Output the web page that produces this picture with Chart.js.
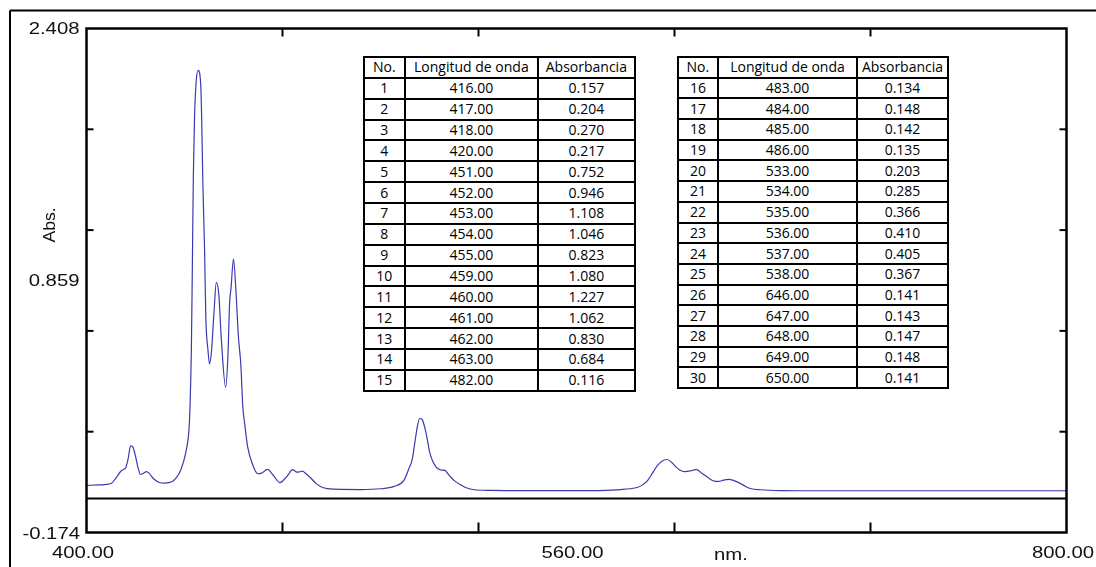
<!DOCTYPE html>
<html>
<head>
<meta charset="utf-8">
<script src="https://cdn.jsdelivr.net/npm/chart.js@4.4.1/dist/chart.umd.min.js"></script>
<style>
  html, body { margin: 0; padding: 0; background: #fff; }
  #wrap { position: relative; width: 1096px; height: 567px; overflow: hidden; }
  #chart { position: absolute; left: 0; top: 0; }
  table.pk {
    position: absolute; border-collapse: collapse; table-layout: fixed;
    font-family: "Open Sans", sans-serif; font-size: 14px; color: #000; background: #fff;
  }
  table.pk td {
    border: 2px solid #000; padding: 0; text-align: center; vertical-align: middle;
    line-height: 1; white-space: nowrap; overflow: hidden;
  }
</style>
</head>
<body>
<div id="wrap"><canvas id="chart" width="1096" height="567"></canvas></div>
<script>
// Absorption spectrum, 400-800 nm
const spectrumNm = [400, 405, 410, 412, 414, 415.5, 419, 421, 422, 423, 424.5, 425.5, 427.5, 430, 432, 435, 436.5, 438.4, 440.4, 441.8,
  442.2, 442.8, 443.2, 443.6, 444.1, 444.8, 445.6, 446.6, 447.0, 447.5, 448.2, 448.7, 449.6, 450.2, 456.8, 457.7, 458.4,
  463.8, 464.4, 465.8, 467.7, 469.9, 471.5, 473.9, 476.3, 479.0, 481.2, 487, 488.1, 489.5, 491.2, 493.9, 496.7, 501.3,
  512, 520, 525.5, 529.5, 531.5, 539.2, 540, 541.2, 542.5, 543.9, 545, 546.3, 547.5, 548.7, 550.5, 552.8, 555, 558.2,
  565, 580, 607, 618, 622, 625, 627, 629, 631, 633, 635, 637, 639, 640.7, 642, 644, 645, 651, 652.5, 654.5, 656.3,
  658, 660, 662, 664, 667.2, 669, 671.3, 675, 683.5, 700, 800];
const spectrumAbs = [0.067, 0.070, 0.077, 0.105, 0.140, 0.152, 0.262, 0.160, 0.124, 0.128, 0.138, 0.130, 0.100, 0.081, 0.079, 0.087, 0.105, 0.144, 0.229, 0.349,
  0.451, 0.758, 1.185, 1.646, 1.954, 2.142, 2.193, 2.125, 1.954, 1.612, 1.271, 0.929, 0.758, 0.690, 0.570, 0.724, 0.998,
  0.470, 0.400, 0.263, 0.178, 0.127, 0.130, 0.149, 0.118, 0.081, 0.105, 0.137, 0.140, 0.128, 0.109, 0.075, 0.055, 0.048,
  0.046, 0.050, 0.062, 0.092, 0.150, 0.297, 0.240, 0.195, 0.165, 0.150, 0.146, 0.144, 0.128, 0.109, 0.088, 0.070, 0.055, 0.045,
  0.042, 0.041, 0.041, 0.046, 0.050, 0.058, 0.070, 0.092, 0.130, 0.168, 0.192, 0.200, 0.183, 0.161, 0.148, 0.138, 0.139, 0.131, 0.118, 0.100, 0.089,
  0.088, 0.094, 0.098, 0.093, 0.075, 0.062, 0.050, 0.045, 0.041, 0.040, 0.040];

// Peak-pick list (wavelength, absorbance)
const peakNm = [416, 417, 418, 420, 451, 452, 453, 454, 455, 459, 460, 461, 462, 463, 482,
  483, 484, 485, 486, 533, 534, 535, 536, 537, 538, 646, 647, 648, 649, 650];
const peakAbs = [0.157, 0.204, 0.270, 0.217, 0.752, 0.946, 1.108, 1.046, 0.823, 1.080, 1.227, 1.062, 0.830, 0.684, 0.116,
  0.134, 0.148, 0.142, 0.135, 0.203, 0.285, 0.366, 0.410, 0.405, 0.367, 0.141, 0.143, 0.147, 0.148, 0.141];
const tableHeaders = ['No.', 'Longitud de onda', 'Absorbancia'];

// Axis range, tick marks and labels
const xRange = [400, 800];
const yRange = [-0.174, 2.408];
const xTickMarks = [480, 560, 640, 720];
const xTickLabels = ['400.00', '560.00', '800.00'];
const yTickLabels = ['2.408', '0.859', '-0.174'];
const xTitle = 'nm.';
const yTitle = 'Abs.';

// Curve = spectrum readings merged with the picked points
const curve = spectrumNm.map((x, i) => ({ x, y: spectrumAbs[i] }))
  .concat(peakNm.map((x, i) => ({ x, y: peakAbs[i] })))
  .sort((a, b) => a.x - b.x);

function buildTable(from, to, left, top, colW, rowH) {
  const t = document.createElement('table');
  t.className = 'pk';
  t.style.left = left + 'px';
  t.style.top = top + 'px';
  const cg = document.createElement('colgroup');
  colW.forEach(w => { const c = document.createElement('col'); c.style.width = w + 'px'; cg.appendChild(c); });
  t.appendChild(cg);
  const addRow = cells => {
    const tr = document.createElement('tr');
    tr.style.height = rowH + 'px';
    cells.forEach(txt => { const td = document.createElement('td'); td.textContent = txt; tr.appendChild(td); });
    t.appendChild(tr);
  };
  addRow(tableHeaders);
  for (let i = from; i < to; i++) addRow([String(i + 1), peakNm[i].toFixed(2), peakAbs[i].toFixed(3)]);
  document.getElementById('wrap').appendChild(t);
}
buildTable(0, 15, 362.5, 56, [41.5, 132.7, 97.3], 20.86);
buildTable(15, 30, 676.5, 56, [40.8, 138.4, 91.6], 20.7);

const LABEL_FONT = '16px "Liberation Sans", Arial, sans-serif';
const STRETCH = 1.27;

function stretchedText(ctx, text, anchorX, baseline, align) {
  const w = ctx.measureText(text).width * STRETCH;
  let left = anchorX;
  if (align === 'right') left = anchorX - w;
  else if (align === 'center') left = anchorX - w / 2;
  ctx.save();
  ctx.translate(left, baseline);
  ctx.scale(STRETCH, 1);
  ctx.fillText(text, 0, 0);
  ctx.restore();
}

const spectroFrame = {
  id: 'spectroFrame',
  afterDraw(chart) {
    const { ctx, chartArea: a, scales: { x, y } } = chart;
    const seg = (x1, y1, x2, y2) => { ctx.beginPath(); ctx.moveTo(x1, y1); ctx.lineTo(x2, y2); ctx.stroke(); };
    ctx.save();
    ctx.strokeStyle = '#000';

    // outer frame (left and top edges)
    ctx.lineWidth = 2;
    seg(10, 567, 10, 10.5);
    seg(10, 10.5, 1096, 10.5);

    // baseline at zero absorbance
    const y0 = y.getPixelForValue(0);
    seg(a.left, y0, a.right, y0);

    // plot box
    ctx.lineWidth = 2.5;
    ctx.strokeRect(a.left, a.top, a.right - a.left, a.bottom - a.top);

    // tick marks, pointing inward
    ctx.lineWidth = 2;
    xTickMarks.forEach(v => {
      const px = x.getPixelForValue(v);
      seg(px, a.bottom, px, a.bottom - 10);
      seg(px, a.top, px, a.top + 8);
    });
    for (let k = 1; k < 5; k++) {
      const py = y.getPixelForValue(yRange[0] + (yRange[1] - yRange[0]) * k / 5);
      seg(a.left, py, a.left + 7, py);
      seg(a.right, py, a.right - 7, py);
    }

    // axis labels
    ctx.fillStyle = '#111';
    ctx.font = LABEL_FONT;
    ctx.textBaseline = 'alphabetic';
    const midY = (a.top + a.bottom) / 2;
    const midX = (a.left + a.right) / 2;
    stretchedText(ctx, yTickLabels[0], a.left - 7, a.top + 5, 'right');
    stretchedText(ctx, yTickLabels[1], a.left - 7, midY + 5.5, 'right');
    stretchedText(ctx, yTickLabels[2], a.left - 6.5, a.bottom + 6.5, 'right');
    stretchedText(ctx, xTickLabels[0], a.left - 3.5, a.bottom + 25, 'center');
    stretchedText(ctx, xTickLabels[1], midX - 4, a.bottom + 25, 'center');
    stretchedText(ctx, xTickLabels[2], a.right - 3.5, a.bottom + 25, 'center');
    stretchedText(ctx, xTitle, 731, a.bottom + 27.5, 'center');

    ctx.save();
    ctx.translate(55, 225);
    ctx.rotate(-Math.PI / 2);
    ctx.scale(1.1, 1);
    ctx.textAlign = 'center';
    ctx.fillText(yTitle, 0, 0);
    ctx.restore();

    ctx.restore();
  }
};

new Chart(document.getElementById('chart').getContext('2d'), {
  type: 'line',
  data: {
    datasets: [{
      data: curve,
      borderColor: '#3a3aae',
      borderWidth: 1.2,
      pointRadius: 0,
      fill: false,
      cubicInterpolationMode: 'monotone'
    }]
  },
  options: {
    responsive: false,
    animation: false,
    devicePixelRatio: 1,
    layout: { padding: { left: 86.5, right: 29.5, top: 28.5, bottom: 34.5 } },
    scales: {
      x: { type: 'linear', min: xRange[0], max: xRange[1], display: false },
      y: { type: 'linear', min: yRange[0], max: yRange[1], display: false }
    },
    plugins: { legend: { display: false }, tooltip: { enabled: false } }
  },
  plugins: [spectroFrame]
});
</script>
</body>
</html>
